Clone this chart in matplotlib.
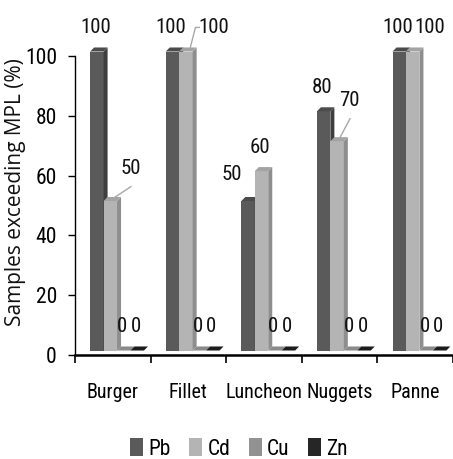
import matplotlib
matplotlib.use("Agg")
import matplotlib.pyplot as plt
from matplotlib.patches import Polygon, Rectangle
from matplotlib import font_manager

# ---- data -------------------------------------------------------------
categories = ["Burger", "Fillet", "Luncheon", "Nuggets", "Panne"]
metals = ["Pb", "Cd", "Cu", "Zn"]
pb = [100, 100, 50, 80, 100]
cd = [50, 100, 60, 70, 100]
cu = [0, 0, 0, 0, 0]
zn = [0, 0, 0, 0, 0]
yticks = [0, 20, 40, 60, 80, 100]
ylabel = "Samples exceeding MPL (%)"

series = [pb, cd, cu, zn]

# ---- styling -----------------------------------------------------------
def pick_font(*names):
    avail = {f.name for f in font_manager.fontManager.ttflist}
    for n in names:
        if n in avail:
            return n
    return "DejaVu Sans"

narrow = pick_font("Liberation Sans Narrow", "Roboto Condensed", "Liberation Sans")
wide = pick_font("Open Sans", "DejaVu Sans")

# front / side / top shades for each metal
shades = {
    "Pb": ("#5a5a5a", "#3e3e3e", "#4b4b4b"),
    "Cd": ("#b4b4b4", "#8e8e8e", "#a3a3a3"),
    "Cu": ("#929292", "#707070", "#8a8a8a"),
    "Zn": ("#262626", "#141414", "#1c1c1c"),
}

bar_w = 0.178
first_off = -0.30
base = 1.5          # floor of the 3-D box
depth_x = 0.053     # 3-D depth, horizontal (category units)
depth_y = 1.35      # 3-D depth, vertical (value units)

# label placement tweaks (category index, metal) -> (dx, dy)
label_shift = {
    (0, "Cd"): (0.29, 2.9),
    (1, "Cd"): (0.386, 0.0),
    (2, "Pb"): (-0.19, 0.9),
    (3, "Cd"): (0.185, 5.7),
    (4, "Cd"): (0.243, 0.0),
}
leaders = {(0, "Cd"), (1, "Cd"), (3, "Cd")}

fig = plt.figure(figsize=(4.53, 4.59), dpi=100)
ax = fig.add_axes([75 / 453, (459 - 355) / 459, 378 / 453, 299 / 459])
ax.set_xlim(-0.5, 4.5)
ax.set_ylim(0, 100)

for k, (metal, vals) in enumerate(zip(metals, series)):
    front, side, top = shades[metal]
    z = 2 + k
    lefts = [i + first_off + k * bar_w for i in range(len(categories))]
    ax.bar(lefts, vals, width=bar_w, bottom=base, align="edge",
           color=front, edgecolor="none", zorder=z, clip_on=False)
    for i, (x0, v) in enumerate(zip(lefts, vals)):
        y1 = base + v
        x1 = x0 + bar_w
        if v > 0:
            ax.add_patch(Polygon([(x1, base), (x1 + depth_x, base + depth_y),
                                  (x1 + depth_x, y1 + depth_y), (x1, y1)],
                                 closed=True, fc=side, ec="none", zorder=z,
                                 clip_on=False))
        ax.add_patch(Polygon([(x0, y1), (x0 + depth_x, y1 + depth_y),
                              (x1 + depth_x, y1 + depth_y), (x1, y1)],
                             closed=True, fc=top, ec="none", zorder=z,
                             clip_on=False))

        # value label
        cx = x0 + bar_w / 2 - 0.02
        cy = y1 + depth_y + 6.7
        dx, dy = label_shift.get((i, metal), (0.0, 0.0))
        lx, ly = cx + dx, cy + dy
        ax.text(lx, ly, f"{v}", ha="center", va="center", fontsize=15,
                family=narrow, color="#111111", zorder=10, clip_on=False)
        if (i, metal) in leaders:
            tx, ty = x0 + bar_w / 2 + depth_x / 2, y1 + depth_y / 2
            if dy < 1.0:
                # elbow leader from the left side of the label
                ex = lx - 0.24
                pts = [(ex + 0.06, ly), (ex, ly), (tx + 0.03, ty + 0.5)]
            else:
                pts = [(lx + 0.01, ly - 6.0), (tx, ty)]
            ax.plot([p[0] for p in pts], [p[1] for p in pts],
                    color="#a8a8a8", lw=1.0, zorder=11, clip_on=False,
                    solid_capstyle="butt")

# ---- axes --------------------------------------------------------------
for s in ("top", "right"):
    ax.spines[s].set_visible(False)
ax.spines["left"].set_bounds(0, 100)
ax.spines["left"].set_linewidth(1.0)
ax.spines["bottom"].set_linewidth(1.8)
ax.spines["bottom"].set_zorder(1)

ax.set_yticks(yticks)
ax.set_yticklabels([str(t) for t in yticks], family=narrow, fontsize=15.5)
ax.tick_params(axis="y", direction="out", length=5, width=1.0, pad=8)

ax.set_xticks(range(len(categories)))
ax.set_xticklabels(categories, family=narrow, fontsize=14.5)
ax.tick_params(axis="x", which="major", length=0, pad=20)
ax.set_xticks([i - 0.5 for i in range(len(categories) + 1)], minor=True)
ax.tick_params(axis="x", which="minor", direction="out", length=6, width=1.2)

fig.text(16 / 453, 1 - 192 / 459, ylabel, rotation=90, ha="center",
         va="center", family=wide, fontsize=15, color="#111111")

handles = [Rectangle((0, 0), 1, 1, fc=shades[m][0], ec="none") for m in metals]
fig.legend(handles, metals, loc="center", bbox_to_anchor=(239 / 453, 1 - 449 / 459),
           ncol=4, frameon=False, handlelength=0.6, handleheight=0.9,
           handletextpad=0.25, columnspacing=0.85,
           prop={"family": narrow, "size": 15.5})

fig.savefig("out.png", dpi=100)
